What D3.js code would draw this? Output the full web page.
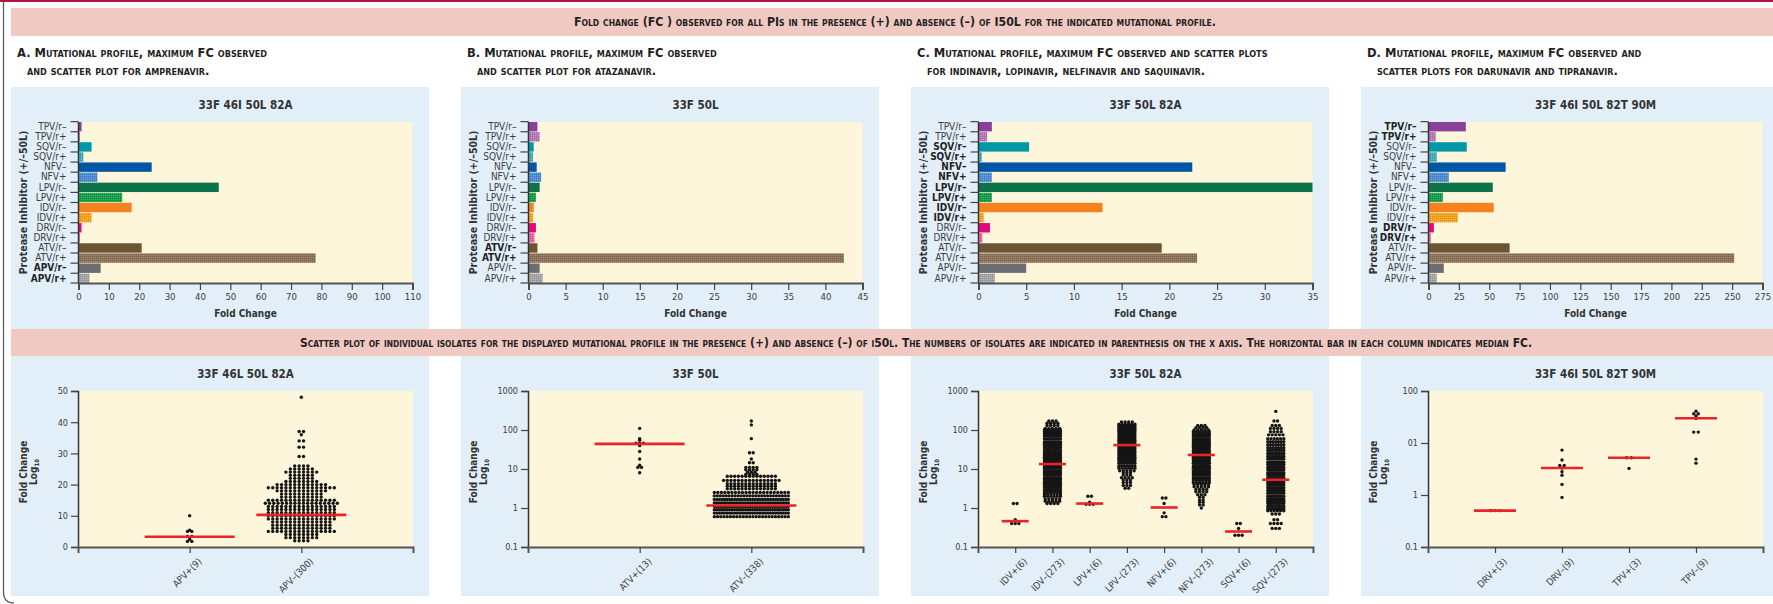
<!DOCTYPE html>
<html>
<head>
<meta charset="utf-8">
<script src="https://cdn.jsdelivr.net/npm/d3@7"></script>
<style>
body { margin: 0; background: #fff; }
svg { display: block; }
.sc { font-family: "Liberation Sans Narrow", "DejaVu Sans Condensed", sans-serif; font-weight: bold; font-variant: small-caps; fill: #231f20; }
.lab { font-family: "DejaVu Sans Condensed", "DejaVu Sans", sans-serif; fill: #3c3c3c; }
.ttl { font-family: "DejaVu Sans Condensed", "DejaVu Sans", sans-serif; font-weight: bold; fill: #333; }
</style>
</head>
<body>
<script>
// ---- data ----
let drugs = ["TPV/r–","TPV/r+","SQV/r–","SQV/r+","NFV–","NFV+","LPV/r–","LPV/r+","IDV/r–","IDV/r+","DRV/r–","DRV/r+","ATV/r–","ATV/r+","APV/r–","APV/r+"];

let profiles = ["33F 46I 50L 82A", "33F 50L", "33F 50L 82A", "33F 46I 50L 82T 90M"];
let scatterTitles = ["33F 46L 50L 82A", "33F 50L", "33F 50L 82A", "33F 46I 50L 82T 90M"];

// maximum FC per PI (top bar charts)
let fcA = [1.0,0.5,4.3,1.6,24.1,6.2,46.2,14.4,17.5,4.3,1.0,0.5,20.8,78.1,7.3,3.6];
let fcB = [1.2,1.5,0.7,0.6,1.1,1.7,1.5,1.0,0.7,0.6,1.0,0.8,1.2,42.5,1.5,1.9];
let fcC = [1.4,0.9,5.3,0.35,22.4,1.4,35,1.4,13.0,0.55,1.2,0.4,19.2,22.9,5.0,1.7];
let fcD = [30.7,6.0,31.5,6.8,63.5,16.7,52.9,11.8,53.7,24.1,4.4,1.9,66.8,251.7,12.6,6.8];

let ticksA = [0,10,20,30,40,50,60,70,80,90,100,110];
let ticksB = [0,5,10,15,20,25,30,35,40,45];
let ticksC = [0,5,10,15,20,25,30,35];
let ticksD = [0,25,50,75,100,125,150,175,200,225,250,275];

let boldA = ["APV/r–","APV/r+"];
let boldB = ["ATV/r–","ATV/r+"];
let boldC = ["SQV/r–","SQV/r+","NFV–","NFV+","LPV/r–","LPV/r+","IDV/r–","IDV/r+"];
let boldD = ["TPV/r–","TPV/r+","DRV/r–","DRV/r+"];

// scatter plots: groups, medians, rows of [FC, number of isolates]
let groupsA = ["APV+(9)","APV–(300)"];
let medA = [3.3, 10.3];
let rowsA = [
  [[10,1],[5.4,1],[5,2],[3.4,2],[2.5,1],[1.8,2]],
  [[48,1],[37,2],[36,1],[34,2],[32,2],[29,2],[26,4],[25,6],[24,8],[23,6],[22,6],[21,8],[20,12],[19,16],[18,12],[17,10],[16,10],[15,16],[14,18],[13,16],[12,16],[11,16],[10,16],[9,16],[8,14],[7,14],[6,14],[5,16],[4,8],[3,8],[2,4]]
];

let groupsB = ["ATV+(13)","ATV–(338)"];
let medB = [44, 1.16];
let rowsB = [
  [[110,1],[60,1],[55,1],[46,3],[40,1],[28,1],[18,1],[12.5,1],[11,2],[8,1]],
  [[170,1],[135,1],[60,1],[26,2],[18,1],[14.5,2],[11,4],[9.5,4],[8.3,3],[7.2,4],[6.5,14],[5.1,16],[4.2,14],[3.6,14],[3.1,14],[2.5,22],[2.05,26],[1.65,30],[1.35,34],[1.1,38],[0.9,34],[0.74,30],[0.6,24]]
];

let groupsC = ["IDV+(6)","IDV–(273)","LPV+(6)","LPV–(273)","NFV+(6)","NFV–(273)","SQV+(6)","SQV–(273)"];
let medC = [0.46, 13.4, 1.3, 41, 1.03, 22.9, 0.25, 5.3];
let rowsC = [
  [[1.3,2],[0.5,1],[0.4,3]],
  [[170,3],[150,4],[130,4],[110,5],[100,8],[90,8],[80,8],[70,8],[60,8],[50,8],[45,8],[40,8],[35,8],[30,8],[26,8],[23,8],[20,8],[18,8],[16,8],[14,8],[12,8],[10.5,8],[9,8],[8,8],[7,8],[6,8],[5.3,8],[4.6,8],[4,8],[3.5,8],[3,8],[2.6,7],[2.3,6],[2,6],[1.7,5],[1.5,5],[1.3,4]],
  [[2.0,2],[1.4,1],[1.25,3]],
  [[160,4],[140,6],[125,8],[110,10],[100,12],[90,12],[80,12],[70,12],[62,12],[55,12],[48,12],[42,12],[37,12],[33,12],[29,11],[26,11],[23,10],[20,9],[18,8],[16,8],[14,7],[12,7],[10.5,6],[9,5],[8,3],[7,3],[6,4],[5.2,3],[4.5,3],[3.8,3],[3.2,2]],
  [[1.8,2],[1.3,1],[0.75,1],[0.6,2]],
  [[130,3],[115,4],[100,5],[90,6],[80,7],[70,8],[60,9],[52,10],[45,10],[40,10],[35,10],[30,11],[26,11],[23,11],[20,11],[18,11],[16,11],[14,11],[12,10],[10.5,10],[9,10],[8,9],[7,8],[6,8],[5.2,7],[4.5,6],[4,5],[3.5,5],[3,4],[2.6,4],[2.2,3],[1.9,2],[1.6,2],[1.4,2],[1.2,2],[1.0,1]],
  [[0.4,2],[0.3,1],[0.2,3]],
  [[300,1],[170,2],[130,3],[110,4],[90,4],[75,5],[60,6],[50,7],[42,7],[35,7],[30,8],[25,8],[21,8],[18,9],[15,9],[13,9],[11,9],[9.5,9],[8,9],[7,9],[6,9],[5.2,9],[4.5,9],[3.9,9],[3.3,9],[2.8,9],[2.4,9],[2,9],[1.7,9],[1.5,8],[1.3,8],[1.1,8],[0.95,8],[0.85,6],[0.7,3],[0.5,2],[0.4,4],[0.3,3]]
];

let groupsD = ["DRV+(3)","DRV–(9)","TPV+(3)","TPV–(9)"];
let medD = [0.5, 3.3, 5.2, 30];
let rowsD = [
  [[0.5,3]],
  [[7.3,1],[4.7,1],[3.7,2],[3.3,1],[2.8,1],[2.4,1],[1.6,1],[0.9,1]],
  [[5.2,2],[3.25,1]],
  [[41,1],[36.5,2],[33,1],[30,1],[16.2,2],[4.9,1],[4.1,1]]
];

let linTicks = [0,10,20,30,40,50];
let logTicks = [0.1,1,10,100,1000];
let logLabels = ["0.1","1","10","100","1000"];
let logTicksD = [0.1,1,10,100];
let logLabelsD = ["0.1","1","01","100"];

// ---- styles ----
let solidCol = ["#8a3f98","#0097a8","#0055a5","#0e734a","#f5821f","#e6087f","#6b5535","#6d6e71"];
let hatchCol = ["#b479bf","#3fb0bb","#4a8ed5","#12a04b","#f9a51b","#ee5fa9","#8e7258","#a6a6a8"];

const W = 1773, H = 604;
let colX = [11, 461, 911, 1361];

let svg = d3.select("body").append("svg")
  .attr("width", W).attr("height", H);

let defs = svg.append("defs");
hatchCol.forEach(function(c, i){
  let p = defs.append("pattern").attr("id", "pat" + i)
    .attr("patternUnits", "userSpaceOnUse").attr("width", 2).attr("height", 2);
  p.append("rect").attr("width", 2).attr("height", 2).attr("fill", c);
  p.append("rect").attr("x", 0).attr("y", 0).attr("width", 1).attr("height", 1).attr("fill", "#000").attr("opacity", 0.14);
  p.append("rect").attr("x", 1).attr("y", 1).attr("width", 1).attr("height", 1).attr("fill", "#fff").attr("opacity", 0.18);
});

// frame
svg.append("rect").attr("x", 0).attr("y", 0).attr("width", W).attr("height", 2).attr("fill", "#b3123d");
svg.append("path").attr("d", "M3.5,2 V592 Q3.5,603 14,603").attr("fill", "none").attr("stroke", "#555").attr("stroke-width", 1.2);

// header bands
svg.append("rect").attr("x", 11).attr("y", 8).attr("width", W - 11).attr("height", 28).attr("fill", "#efc9c2");
svg.append("text").attr("class", "sc").attr("x", 895).attr("y", 22).attr("dy", "0.35em")
  .attr("text-anchor", "middle").style("font-size", "11.5px")
  .attr("textLength", 642).attr("lengthAdjust", "spacingAndGlyphs")
  .text("Fold change (FC ) observed for all PIs in the presence (+) and absence (–) of I50L for the indicated mutational profile.");

svg.append("rect").attr("x", 11).attr("y", 329).attr("width", W - 11).attr("height", 27).attr("fill", "#efc9c2");
svg.append("text").attr("class", "sc").attr("x", 916).attr("y", 343).attr("dy", "0.35em")
  .attr("text-anchor", "middle").style("font-size", "11.5px")
  .attr("textLength", 1232).attr("lengthAdjust", "spacingAndGlyphs")
  .text("Scatter plot of individual isolates for the displayed mutational profile in the presence (+) and absence (–) of i50l. The numbers of isolates are indicated in parenthesis on the x axis. The horizontal bar in each column indicates median FC.");

// panel captions
let caps1 = ["A. Mutational profile, maximum FC observed", "B. Mutational profile, maximum FC observed",
  "C. Mutational profile, maximum FC observed and scatter plots", "D. Mutational profile, maximum FC observed and"];
let caps2 = ["and scatter plot for amprenavir.", "and scatter plot for atazanavir.",
  "for indinavir, lopinavir, nelfinavir and saquinavir.", "scatter plots for darunavir and tipranavir."];
colX.forEach(function(x0, i){
  svg.append("text").attr("class", "sc").attr("x", x0 + 6).attr("y", 53).attr("dy", "0.35em")
    .style("font-size", "12.8px").text(caps1[i]);
  svg.append("text").attr("class", "sc").attr("x", x0 + 16).attr("y", 71).attr("dy", "0.35em")
    .style("font-size", "12.8px").text(caps2[i]);
});

// ---- top: bar charts ----
function barPanel(k, vals, ticks, bold){
  let x0 = colX[k];
  let g = svg.append("g");
  g.append("rect").attr("x", x0).attr("y", 87).attr("width", 418).attr("height", 242).attr("fill", "#e2eff9");
  let px = x0 + 67.5, pw = 334, py = 122, ph = 161;
  g.append("rect").attr("x", px).attr("y", py).attr("width", pw).attr("height", ph).attr("fill", "#fdf6da");
  g.append("text").attr("class", "ttl").attr("x", px + pw / 2).attr("y", 105).attr("dy", "0.35em")
    .attr("text-anchor", "middle").style("font-size", "11.5px").text(profiles[k]);

  let x = d3.scaleLinear().domain([0, ticks[ticks.length - 1]]).range([px, px + pw]);
  let y = d3.scaleBand().domain(drugs).range([py, py + ph]).paddingInner(0.07);

  g.selectAll(".bar").data(vals).enter().append("rect")
    .attr("x", x(0))
    .attr("y", (d, i) => y(drugs[i]))
    .attr("width", d => x(d) - x(0))
    .attr("height", y.bandwidth())
    .attr("fill", (d, i) => i % 2 === 0 ? solidCol[Math.floor(i / 2)] : "url(#pat" + Math.floor(i / 2) + ")");

  // y axis
  let ya = g.append("g").attr("transform", "translate(" + px + ",0)")
    .call(d3.axisLeft(y).tickSize(0).tickPadding(12));
  ya.select(".domain").remove();
  ya.selectAll("text").attr("class", "lab").style("font-size", "10px")
    .style("font-weight", d => bold.indexOf(d) >= 0 ? "bold" : "normal")
    .style("fill", d => bold.indexOf(d) >= 0 ? "#222" : "#3c3c3c");
  let step = y.step();
  let bounds = drugs.map(d => y(d) - step * y.paddingInner() / 2).concat([py + ph]);
  g.selectAll(".yt").data(bounds).enter().append("line")
    .attr("x1", px - 8).attr("x2", px).attr("y1", d => d).attr("y2", d => d)
    .attr("stroke", "#444").attr("stroke-width", 1.2);
  g.append("line").attr("x1", px).attr("x2", px).attr("y1", py).attr("y2", py + ph)
    .attr("stroke", "#333").attr("stroke-width", 1.5);

  // x axis
  let xa = g.append("g").attr("transform", "translate(0," + (py + ph) + ")")
    .call(d3.axisBottom(x).tickValues(ticks).tickSize(7).tickPadding(3));
  xa.select(".domain").attr("stroke", "#555").attr("stroke-width", 2);
  xa.selectAll("line").attr("stroke", "#444").attr("stroke-width", 1.2);
  xa.selectAll("text").attr("class", "lab").style("font-size", "9.5px");

  g.append("text").attr("class", "ttl").attr("x", px + pw / 2).attr("y", 313).attr("dy", "0.35em")
    .attr("text-anchor", "middle").style("font-size", "10px").text("Fold Change");
  g.append("text").attr("class", "ttl").attr("transform", "translate(" + (x0 + 12) + "," + (py + ph / 2) + ") rotate(-90)")
    .attr("dy", "0.35em").attr("text-anchor", "middle").style("font-size", "10.5px")
    .text("Protease Inhibitor (+/–50L)");
}

barPanel(0, fcA, ticksA, boldA);
barPanel(1, fcB, ticksB, boldB);
barPanel(2, fcC, ticksC, boldC);
barPanel(3, fcD, ticksD, boldD);

// ---- bottom: scatter plots ----
function scatterPanel(k, groups, rows, meds, y0, tickVals, tickLabs, gap, maxW, medW){
  let x0 = colX[k];
  let g = svg.append("g");
  g.append("rect").attr("x", x0).attr("y", 356).attr("width", 418).attr("height", 240).attr("fill", "#e2eff9");
  let px = x0 + 67, pw = 335, py = 391, ph = 156;
  g.append("rect").attr("x", px).attr("y", py).attr("width", pw).attr("height", ph).attr("fill", "#fdf6da");
  g.append("text").attr("class", "ttl").attr("x", px + pw / 2).attr("y", 374).attr("dy", "0.35em")
    .attr("text-anchor", "middle").style("font-size", "11.5px").text(scatterTitles[k]);

  let x = d3.scalePoint().domain(groups).range([px, px + pw]).padding(1);
  let y = y0.range([py + ph, py]);

  // dots: each row of isolates spread sideways around the column centre
  let pts = [];
  rows.forEach(function(rs, gi){
    rs.forEach(function(r){
      let n = r[1];
      let s = n > 1 ? Math.min(gap, maxW / (n - 1)) : 0;
      for (let j = 0; j < n; j++){
        pts.push({g: groups[gi], v: r[0], dx: (j - (n - 1) / 2) * s});
      }
    });
  });
  g.selectAll(".dot").data(pts).enter().append("circle")
    .attr("cx", d => x(d.g) + d.dx).attr("cy", d => y(d.v)).attr("r", 1.7).attr("fill", "#151515");

  g.selectAll(".med").data(meds).enter().append("line")
    .attr("x1", (d, i) => x(groups[i]) - medW / 2).attr("x2", (d, i) => x(groups[i]) + medW / 2)
    .attr("y1", d => y(d)).attr("y2", d => y(d))
    .attr("stroke", "#ec2229").attr("stroke-width", 2.6);

  let ya = g.append("g").attr("transform", "translate(" + px + ",0)")
    .call(d3.axisLeft(y).tickValues(tickVals).tickFormat((d, i) => tickLabs[i]).tickSize(7).tickPadding(3));
  ya.select(".domain").attr("stroke", "#333").attr("stroke-width", 1.5);
  ya.selectAll("line").attr("stroke", "#444").attr("stroke-width", 1.2);
  ya.selectAll("text").attr("class", "lab").style("font-size", "9px");

  let xa = g.append("g").attr("transform", "translate(0," + (py + ph) + ")")
    .call(d3.axisBottom(x).tickSize(6).tickPadding(4));
  xa.select(".domain").attr("stroke", "#555").attr("stroke-width", 2);
  xa.selectAll("line").attr("stroke", "#444").attr("stroke-width", 1.2);
  xa.selectAll("text").attr("class", "lab").style("font-size", "9.5px")
    .attr("text-anchor", "end").attr("dy", "0.3em")
    .attr("transform", "translate(3,6) rotate(-45)");

  let lab = g.append("text").attr("class", "ttl").attr("transform", "translate(" + (x0 + 12) + "," + (py + ph / 2 + 3) + ") rotate(-90)")
    .attr("text-anchor", "middle").style("font-size", "10px");
  lab.append("tspan").attr("x", 0).attr("dy", "0.35em").text("Fold Change");
  let l2 = lab.append("tspan").attr("x", 0).attr("dy", "1.05em").text("Log");
  l2.append("tspan").style("font-size", "6px").attr("dy", "0.25em").text("10");
}

scatterPanel(0, groupsA, rowsA, medA, d3.scaleLinear().domain([0, 50]), linTicks, linTicks.map(String), 4.4, 72, 90);
scatterPanel(1, groupsB, rowsB, medB, d3.scaleLog().domain([0.1, 1000]), logTicks, logLabels, 3.7, 74, 90);
scatterPanel(2, groupsC, rowsC, medC, d3.scaleLog().domain([0.1, 1000]), logTicks, logLabels, 3.6, 16, 27);
scatterPanel(3, groupsD, rowsD, medD, d3.scaleLog().domain([0.1, 100]), logTicksD, logLabelsD, 4.6, 20, 42);
</script>
</body>
</html>
